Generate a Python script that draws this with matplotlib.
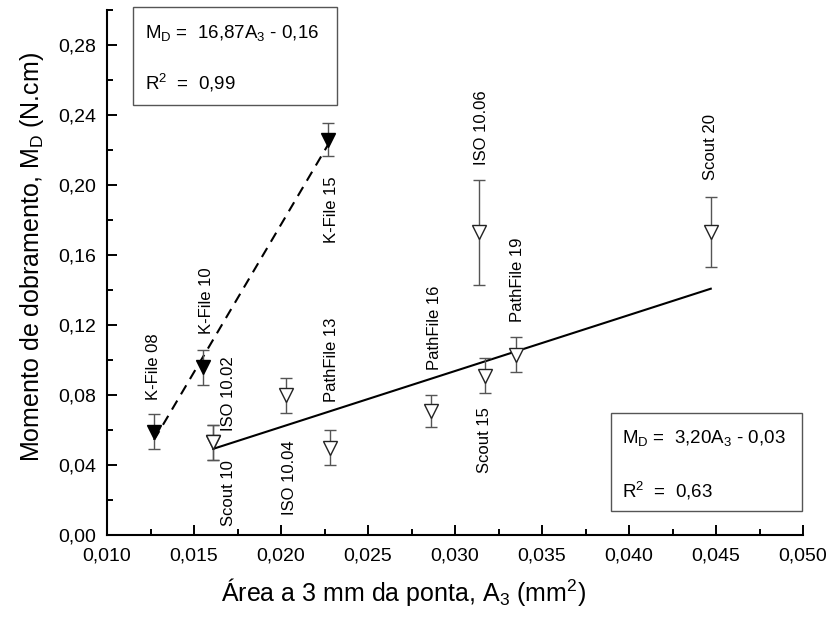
import numpy as np
import matplotlib
matplotlib.use('Agg')
import matplotlib.pyplot as plt
from matplotlib.patches import Rectangle
from matplotlib.ticker import MultipleLocator, FuncFormatter

plt.rcParams['font.family'] = ['Liberation Sans', 'DejaVu Sans']
plt.rcParams['mathtext.fontset'] = 'custom'
plt.rcParams['mathtext.rm'] = 'Liberation Sans'
plt.rcParams['mathtext.it'] = 'Liberation Sans:italic'

# K-File group (filled triangles, dashed fit)
kfile_names = ['K-File 08', 'K-File 10', 'K-File 15']
kfile_x = [0.0127, 0.0155, 0.0227]
kfile_y = [0.059, 0.096, 0.226]
kfile_err = [0.010, 0.010, 0.0095]

# other instruments (open triangles, solid fit)
other_names = ['Scout 10', 'ISO 10.02', 'ISO 10.04', 'PathFile 13', 'PathFile 16',
               'ISO 10.06', 'Scout 15', 'PathFile 19', 'Scout 20']
other_x = [0.0161, 0.0161, 0.0203, 0.0228, 0.0286, 0.0314, 0.0317, 0.0335, 0.0447]
other_y = [0.053, 0.053, 0.080, 0.050, 0.071, 0.173, 0.091, 0.103, 0.173]
other_err = [0.010, 0.010, 0.010, 0.010, 0.009, 0.030, 0.010, 0.010, 0.020]

# fits (slope, intercept)
fit_kfile = (16.87, -0.160)
fit_other = (3.20, -0.0023)

eq_kfile = [r'M$_\mathrm{D}$ =  16,87A$_\mathrm{3}$ - 0,16', r'R$^\mathrm{2}$  =  0,99']
eq_other = [r'M$_\mathrm{D}$ =  3,20A$_\mathrm{3}$ - 0,03', r'R$^\mathrm{2}$  =  0,63']

# label anchors: (x centre, y bottom) of the rotated text
label_pos = {
    'K-File 08': (0.0127, 0.077), 'K-File 10': (0.0157, 0.115),
    'K-File 15': (0.0229, 0.167), 'Scout 10': (0.0170, 0.0054),
    'ISO 10.02': (0.0170, 0.0595), 'ISO 10.04': (0.0205, 0.0112),
    'PathFile 13': (0.0229, 0.0762), 'PathFile 16': (0.0288, 0.0943),
    'ISO 10.06': (0.0315, 0.2114), 'Scout 15': (0.0317, 0.0353),
    'PathFile 19': (0.0336, 0.1219), 'Scout 20': (0.0447, 0.2029),
}

W, H = 830, 623
fig = plt.figure(figsize=(W / 100, H / 100), dpi=100)
ax = fig.add_axes([107 / W, 88 / H, 696 / W, 525 / H])

xk = np.array([min(kfile_x), max(kfile_x)])
ax.plot(xk, fit_kfile[0] * xk + fit_kfile[1], color='k', lw=1.5, dashes=(5, 3.5), zorder=2)
xo = np.array([min(other_x), max(other_x)])
ax.plot(xo, fit_other[0] * xo + fit_other[1], color='k', lw=1.5, zorder=2)

ax.errorbar(other_x, other_y, yerr=other_err, fmt='none', ecolor='#555555',
            elinewidth=1, capsize=4, capthick=1, zorder=3)
ax.errorbar(kfile_x, kfile_y, yerr=kfile_err, fmt='none', ecolor='#555555',
            elinewidth=1, capsize=4, capthick=1, zorder=3)
ax.plot(other_x, other_y, 'v', ms=10, mfc='white', mec='#222222', mew=1, zorder=4)
ax.plot(kfile_x, kfile_y, 'v', ms=10, mfc='black', mec='black', mew=1, zorder=4)

for name, (lx, ly) in label_pos.items():
    ax.text(lx, ly, name, rotation=90, ha='center', va='bottom', fontsize=12)

ax.set_xlim(0.010, 0.050)
ax.set_ylim(0.0, 0.30)
ax.xaxis.set_major_locator(MultipleLocator(0.005))
ax.xaxis.set_minor_locator(MultipleLocator(0.0025))
ax.yaxis.set_major_locator(MultipleLocator(0.04))
ax.yaxis.set_minor_locator(MultipleLocator(0.02))
ax.xaxis.set_major_formatter(FuncFormatter(lambda v, p: f'{v:.3f}'.replace('.', ',')))
ax.yaxis.set_major_formatter(FuncFormatter(lambda v, p: f'{v:.2f}'.replace('.', ',')))
for s in ['top', 'right']:
    ax.spines[s].set_visible(False)
for s in ['left', 'bottom']:
    ax.spines[s].set_linewidth(1.5)
ax.tick_params(which='major', direction='in', length=7, width=1.4, labelsize=14)
ax.tick_params(which='minor', direction='in', length=4, width=1.4)
ax.tick_params(axis='x', pad=9)
ax.tick_params(axis='y', pad=8)

fig.text(404 / W, 1 - 601 / H, r'Área a 3 mm da ponta, A$_\mathrm{3}$ (mm$^\mathrm{2}$)',
         ha='center', va='baseline', fontsize=18)
fig.text(32 / W, 1 - 257 / H, r'Momento de dobramento, M$_\mathrm{D}$ (N.cm)',
         rotation=90, ha='center', va='center', fontsize=18)

# equation boxes
boxes = [((133, 7, 337, 105), (145, 38, 90), eq_kfile),
         ((611, 413, 802, 511), (622, 443, 497), eq_other)]
for (x0, y0, x1, y1), (tx, b1, b2), lines in boxes:
    fig.add_artist(Rectangle((x0 / W, 1 - y1 / H), (x1 - x0) / W, (y1 - y0) / H,
                             transform=fig.transFigure, fc='white', ec='#555555', lw=1))
    fig.text(tx / W, 1 - b1 / H, lines[0], ha='left', va='baseline', fontsize=13.5)
    fig.text(tx / W, 1 - b2 / H, lines[1], ha='left', va='baseline', fontsize=13.5)

fig.savefig('out.png', dpi=100)
